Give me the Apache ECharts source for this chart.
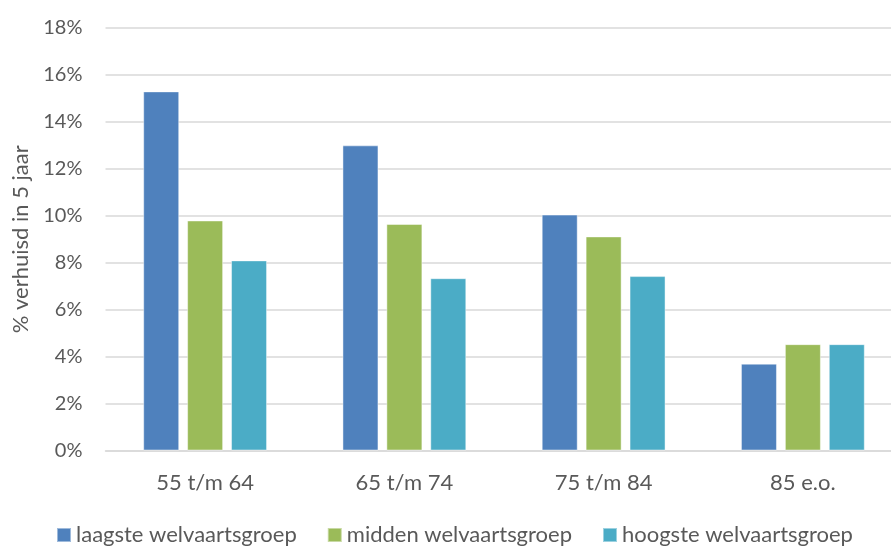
<!DOCTYPE html>
<html><head><meta charset="utf-8">
<script src="https://cdn.jsdelivr.net/npm/echarts@6/dist/echarts.min.js"></script>
<style>html,body{margin:0;padding:0;background:#fff}#c{width:891px;height:547px}</style>
</head><body><div id="c"></div>
<script>
const categories = ['55 t/m 64', '65 t/m 74', '75 t/m 84', '85 e.o.'];
const seriesNames = ['laagste welvaartsgroep', 'midden welvaartsgroep', 'hoogste welvaartsgroep'];
const laagste = [15.3, 13.0, 10.05, 3.7];
const midden = [9.8, 9.65, 9.12, 4.53];
const hoogste = [8.1, 7.34, 7.43, 4.53];
const yTicks = [0, 2, 4, 6, 8, 10, 12, 14, 16, 18];
const colors = ['#4F81BD', '#9BBB59', '#4BACC6'];

const font = 'Lato, "Open Sans", sans-serif';
const chart = echarts.init(document.getElementById('c'), null, {renderer: 'canvas'});
const data = [laagste, midden, hoogste];
chart.setOption({
  animation: false,
  color: colors,
  grid: {left: 105.5, top: 28, width: 797, height: 422.5, containLabel: false, outerBoundsMode: 'none'},
  legend: {
    top: 519, left: 51,
    itemWidth: 14, itemHeight: 14, itemGap: 30,
    icon: 'rect',
    textStyle: {fontFamily: font, fontSize: 22, color: '#595959', padding: [0, 0, 0, 0]},
    data: seriesNames
  },
  xAxis: {
    type: 'category', data: categories,
    axisLine: {lineStyle: {color: '#D9D9D9', width: 1.5}},
    axisTick: {show: false},
    axisLabel: {fontFamily: font, fontSize: 22, color: '#595959', margin: 21}
  },
  yAxis: {
    type: 'value', min: yTicks[0], max: yTicks[yTicks.length - 1], interval: 2,
    name: '% verhuisd in 5 jaar', nameLocation: 'middle', nameGap: 74, nameRotate: 90,
    nameTextStyle: {fontFamily: font, fontSize: 22, color: '#595959'},
    axisLine: {show: false}, axisTick: {show: false},
    splitLine: {lineStyle: {color: '#D9D9D9', width: 1.5}},
    axisLabel: {fontFamily: font, fontSize: 20, color: '#595959', margin: 23, formatter: v => v + '%'}
  },
  series: seriesNames.map((n, i) => ({
    name: n, type: 'bar', data: data[i], barWidth: 36, barGap: '22%',
    itemStyle: {color: colors[i], borderColor: 'rgba(255,255,255,0.45)', borderWidth: 1}
  }))
});
</script></body></html>
